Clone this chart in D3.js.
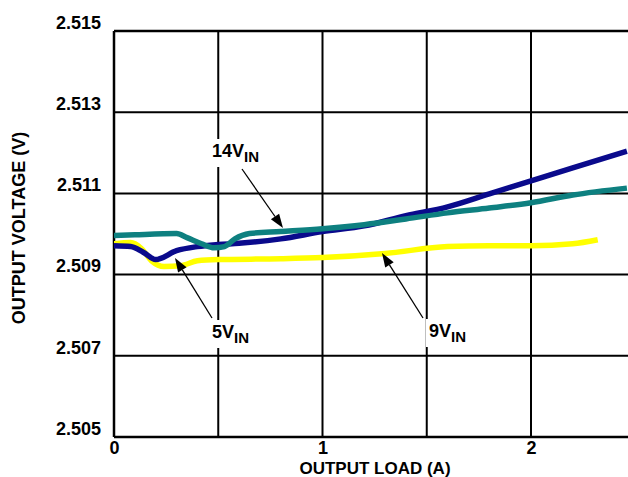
<!DOCTYPE html>
<html><head><meta charset="utf-8">
<script src="https://cdn.jsdelivr.net/npm/d3@7"></script>
<style>body{margin:0;background:#fff}svg{display:block}text{font-family:"Liberation Sans",Arial,sans-serif;font-weight:bold}</style>
</head><body><svg id="c" width="628" height="477"></svg>
<script>
const yTicks = [2.505, 2.507, 2.509, 2.511, 2.513, 2.515];
const yGrid = [2.505, 2.507, 2.509, 2.511, 2.513, 2.515];
const xTicks = [0, 1, 2];
const xGrid = [0, 0.5, 1, 1.5, 2, 2.5];

const load5 = [0, 0.08, 0.14, 0.2, 0.3, 0.4, 0.5, 0.6, 0.8, 1.0, 1.2, 1.4, 1.6, 1.8, 2.0, 2.2, 2.46];
const v5 = [2.50971, 2.50969, 2.50955, 2.50937, 2.50959, 2.50969, 2.50974, 2.50977, 2.50988, 2.51006, 2.5102, 2.51045, 2.51067, 2.51099, 2.51131, 2.51163, 2.51204];

const load14 = [0, 0.1, 0.3, 0.35, 0.42, 0.48, 0.53, 0.58, 0.65, 0.8, 1.0, 1.2, 1.4, 1.6, 1.8, 2.0, 2.2, 2.46];
const v14 = [2.50996, 2.50998, 2.51001, 2.50991, 2.50976, 2.50966, 2.50969, 2.50988, 2.51001, 2.51006, 2.51013, 2.51023, 2.51037, 2.51052, 2.51064, 2.51077, 2.51096, 2.51113];

const load9 = [0, 0.08, 0.13, 0.18, 0.24, 0.32, 0.4, 0.5, 0.8, 1.0, 1.3, 1.6, 1.8, 2.0, 2.2, 2.32];
const v9 = [2.50976, 2.50979, 2.50965, 2.50934, 2.5092, 2.50922, 2.50934, 2.50937, 2.50939, 2.50942, 2.50952, 2.50969, 2.50971, 2.50971, 2.50976, 2.50986];

const svg = d3.select("#c");
const L = 114, T = 31, B = 437;
const x = d3.scaleLinear().domain([0, 2.5]).range([L, L + 2.5 * 208.5]);
const y = d3.scaleLinear().domain([2.505, 2.515]).range([B, T]);

svg.append("defs").append("clipPath").attr("id","clip")
  .append("rect").attr("x", L).attr("y", T - 5).attr("width", 628 - L).attr("height", B - T + 10);

const g = svg.append("g");
// grid
g.selectAll(".hg").data(yGrid).enter().append("line")
  .attr("x1", L).attr("x2", 628).attr("y1", d => y(d)).attr("y2", d => y(d))
  .attr("stroke", "#000").attr("stroke-width", d => (d === 2.505 || d === 2.515) ? 2.5 : 2);
g.selectAll(".vg").data(xGrid.filter(d => x(d) <= 628)).enter().append("line")
  .attr("y1", T).attr("y2", B).attr("x1", d => x(d)).attr("x2", d => x(d))
  .attr("stroke", "#000").attr("stroke-width", d => d === 0 ? 2.5 : 2);

// axes labels (using d3 axes, domain hidden)
const yAxis = svg.append("g").attr("transform", `translate(${L},0)`)
  .call(d3.axisLeft(y).tickValues(yTicks).tickSize(0).tickPadding(13).tickFormat(d3.format(".3f")));
yAxis.select(".domain").remove();
yAxis.selectAll("text").attr("font-size", 18).attr("font-family", "Liberation Sans, Arial, sans-serif").attr("font-weight", "bold").attr("dy", "-0.15em");

const xAxis = svg.append("g").attr("transform", `translate(0,${B})`)
  .call(d3.axisBottom(x).tickValues(xTicks).tickSize(0).tickPadding(4).tickFormat(d3.format("d")));
xAxis.select(".domain").remove();
xAxis.selectAll("text").attr("font-size", 18).attr("font-family", "Liberation Sans, Arial, sans-serif").attr("font-weight", "bold");

svg.append("text").attr("x", 375).attr("y", 474).attr("text-anchor", "middle").attr("font-size", 17).text("OUTPUT LOAD (A)");
svg.append("text").attr("transform", "translate(25,228) rotate(-90)").attr("text-anchor", "middle").attr("font-size", 18).text("OUTPUT VOLTAGE (V)");

// annotations with white background
function label(px, py, main) {
  const t = svg.append("text").attr("x", px).attr("y", py).attr("font-size", 18);
  t.append("tspan").text(main);
  t.append("tspan").attr("font-size", 15).attr("dy", 5).text("IN");
  const bb = t.node().getBBox();
  svg.insert("rect", () => t.node()).attr("x", bb.x - 3).attr("y", bb.y - 2).attr("width", bb.width + 6).attr("height", bb.height + 4).attr("fill", "#fff");
}
label(212, 157, "14V");
label(212, 338, "5V");
label(429, 337, "9V");

// lines
const line = d3.line().curve(d3.curveMonotoneX).x(d => x(d[0])).y(d => y(d[1]));
const lg = svg.append("g").attr("clip-path", "url(#clip)");
const series = [
  {l: load9, v: v9, c: "#ffff00"},
  {l: load5, v: v5, c: "#0a0a8c"},
  {l: load14, v: v14, c: "#0e8080"}
];
series.forEach(s => {
  lg.append("path").datum(d3.zip(s.l, s.v)).attr("d", line)
    .attr("fill", "none").attr("stroke", s.c).attr("stroke-width", 5.5).attr("stroke-linejoin", "round");
});

// arrows
const arrows = [
  [[242, 169], [283, 228]],
  [[212, 318], [175, 258]],
  [[423, 318], [382, 253]]
];
arrows.forEach(([a, b]) => {
  const ang = Math.atan2(b[1] - a[1], b[0] - a[0]);
  const len = 14, w = 5;
  const bx = b[0] - len * Math.cos(ang), by = b[1] - len * Math.sin(ang);
  svg.append("line").attr("x1", a[0]).attr("y1", a[1]).attr("x2", bx).attr("y2", by).attr("stroke", "#000").attr("stroke-width", 1.3);
  const px = -Math.sin(ang) * w, py = Math.cos(ang) * w;
  svg.append("path").attr("d", `M${b[0]},${b[1]}L${bx + px},${by + py}L${bx - px},${by - py}Z`).attr("fill", "#000");
});
</script></body></html>
